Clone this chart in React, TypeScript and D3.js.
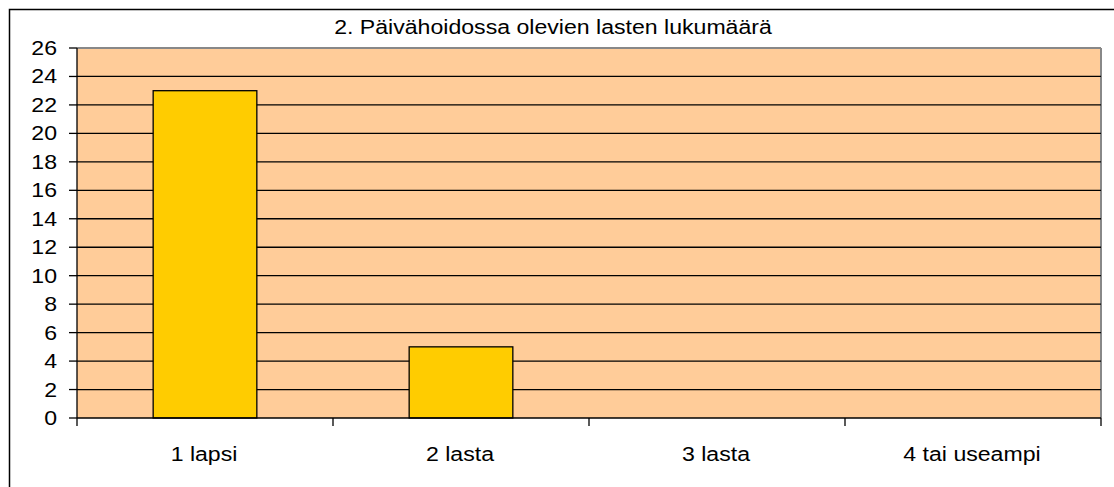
import * as d3 from "d3";

const title = "2. Päivähoidossa olevien lasten lukumäärä";
const categories = ["1 lapsi", "2 lasta", "3 lasta", "4 tai useampi"];
const counts = [23, 5, 0, 0];
const yTicks = [0, 2, 4, 6, 8, 10, 12, 14, 16, 18, 20, 22, 24, 26];

const W = 1114;
const H = 487;
const plot = { left: 77, top: 48, right: 1101, bottom: 418 };
const font = "Arial, 'Liberation Sans', sans-serif";
const fs = 21;
const sx = 1.1; // text in the source is a bit wider than plain Arial

function Label(props: { x: number; y: number; anchor: string; children: any }) {
  return (
    <text
      transform={`translate(${props.x},${props.y}) scale(${sx},1)`}
      textAnchor={props.anchor}
      fontSize={fs}
      fill="#000"
    >
      {props.children}
    </text>
  );
}

export default function App() {
  const x = d3
    .scaleBand<string>()
    .domain(categories)
    .range([plot.left, plot.right])
    .paddingInner(0)
    .paddingOuter(0);
  const y = d3.scaleLinear().domain([0, 26]).range([plot.bottom, plot.top]);
  const barW = x.bandwidth() * 0.405;

  return (
    <svg
      width={W}
      height={H}
      style={{ position: "absolute", left: 0, top: 0, background: "#fff" }}
      fontFamily={font}
    >
      {/* chart frame */}
      <rect x={9.5} y={9.5} width={W + 20} height={H + 20} fill="none" stroke="#000" strokeWidth={1.5} />

      <Label x={553} y={34} anchor="middle">
        {title}
      </Label>

      {/* plot area */}
      <rect
        x={plot.left}
        y={plot.top}
        width={plot.right - plot.left}
        height={plot.bottom - plot.top}
        fill="#FFCC99"
      />
      <line x1={plot.left} x2={plot.right} y1={plot.top} y2={plot.top} stroke="#888" strokeWidth={2} />
      <line x1={plot.right} x2={plot.right} y1={plot.top} y2={plot.bottom} stroke="#888" strokeWidth={2} />

      {/* gridlines */}
      {yTicks
        .filter((t) => t > 0 && t < 26)
        .map((t) => (
          <line
            key={t}
            x1={plot.left}
            x2={plot.right}
            y1={y(t)}
            y2={y(t)}
            stroke="#000"
            strokeWidth={1.3}
          />
        ))}

      {/* bars */}
      {categories.map((c, i) =>
        counts[i] > 0 ? (
          <rect
            key={c}
            x={(x(c) ?? 0) + (x.bandwidth() - barW) / 2}
            y={y(counts[i])}
            width={barW}
            height={y(0) - y(counts[i])}
            fill="#FFCC00"
            stroke="#000"
            strokeWidth={1.3}
          />
        ) : null
      )}

      {/* y axis */}
      <line x1={plot.left} x2={plot.left} y1={plot.top} y2={plot.bottom} stroke="#000" strokeWidth={1.3} />
      {yTicks.map((t) => (
        <g key={t}>
          <line x1={plot.left - 8} x2={plot.left} y1={y(t)} y2={y(t)} stroke="#000" strokeWidth={1.3} />
          <Label x={57} y={y(t) + 7} anchor="end">
            {t}
          </Label>
        </g>
      ))}

      {/* x axis */}
      <line x1={plot.left} x2={plot.right} y1={plot.bottom} y2={plot.bottom} stroke="#000" strokeWidth={1.3} />
      {[...categories.map((c) => x(c) ?? 0), plot.right].map((px, i) => (
        <line key={i} x1={px} x2={px} y1={plot.bottom} y2={plot.bottom + 8} stroke="#000" strokeWidth={1.3} />
      ))}
      {categories.map((c) => (
        <Label key={c} x={(x(c) ?? 0) + x.bandwidth() / 2 - 1} y={461} anchor="middle">
          {c}
        </Label>
      ))}
    </svg>
  );
}
